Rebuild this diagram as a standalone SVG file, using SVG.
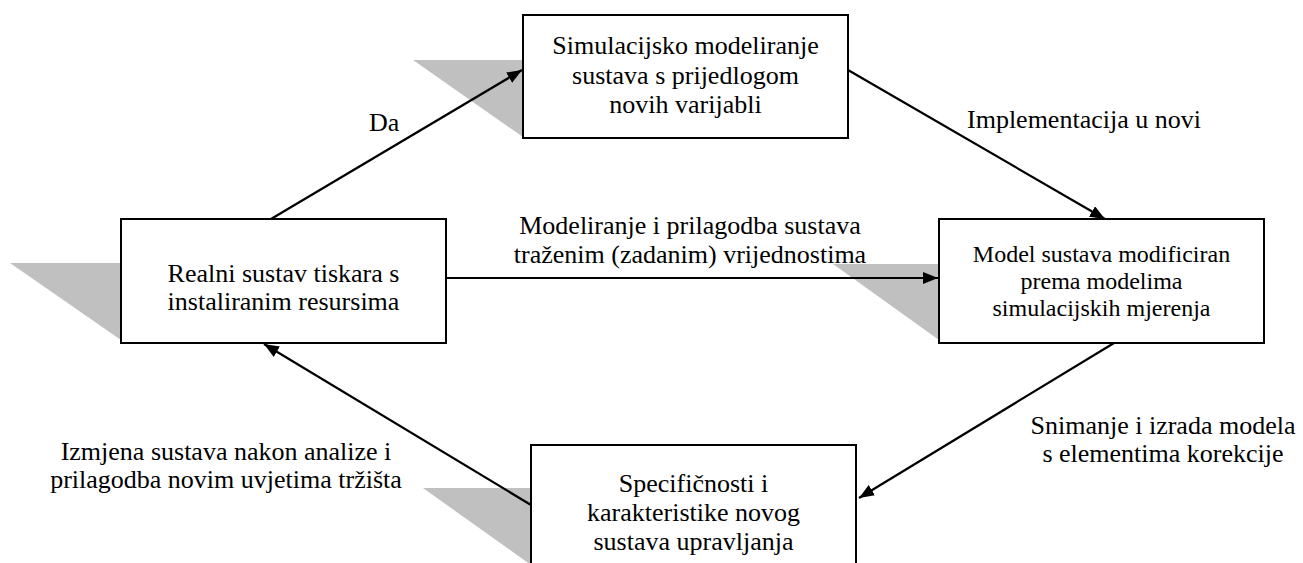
<svg xmlns="http://www.w3.org/2000/svg" width="1303" height="563" viewBox="0 0 1303 563">
<style>
.box{fill:#ffffff;stroke:#000000;stroke-width:2}
.shadow{fill:#c0c0c0;stroke:none}
.t{font-family:"Liberation Serif","Times New Roman",serif;font-size:26px;fill:#000000;text-anchor:middle}
.ts{font-family:"Liberation Serif","Times New Roman",serif;font-size:24px;fill:#000000;text-anchor:middle}
.lbl{font-family:"Liberation Serif","Times New Roman",serif;font-size:26px;fill:#000000}
.edge{stroke:#000000;stroke-width:2.2;fill:none;marker-end:url(#arrow)}
</style>
<defs>
<marker id="arrow" markerUnits="userSpaceOnUse" markerWidth="15" markerHeight="12" refX="15" refY="6" orient="auto">
<path d="M0,0 L15,6 L0,12 z" fill="#000000"/>
</marker>
</defs>
<g id="shadows">
<polygon class="shadow" points="413,60 523,60 523,137"/>
<polygon class="shadow" points="10,263 121,263 121,340"/>
<polygon class="shadow" points="833,264 939,264 939,340"/>
<polygon class="shadow" points="423,488 531,488 531,565"/>
</g>
<g id="connectors">
<line class="edge" x1="271" y1="219" x2="522" y2="70"/>
<line class="edge" x1="848" y1="70" x2="1105" y2="219"/>
<line class="edge" x1="446" y1="278" x2="938" y2="278"/>
<line class="edge" x1="1114" y1="343" x2="859" y2="498"/>
<line class="edge" x1="531" y1="505" x2="264" y2="344"/>
<text class="lbl" x="369" y="131">Da</text>
<text class="lbl" x="967" y="128">Implementacija u novi</text>
<text class="t" x="690" y="234">Modeliranje i prilagodba sustava</text>
<text class="t" x="690" y="263">traženim (zadanim) vrijednostima</text>
<text class="t" x="1163" y="434">Snimanje i izrada modela</text>
<text class="t" x="1163" y="462">s elementima korekcije</text>
<text class="t" x="226" y="460">Izmjena sustava nakon analize i</text>
<text class="t" x="226" y="488">prilagodba novim uvjetima tržišta</text>
</g>
<g id="node-simulacija">
<rect class="box" x="523" y="15" width="325" height="123"/>
<text class="t" x="685.5" y="54">Simulacijsko modeliranje</text>
<text class="t" x="685.5" y="83.5">sustava s prijedlogom</text>
<text class="t" x="685.5" y="113">novih varijabli</text>
</g>
<g id="node-realni">
<rect class="box" x="121" y="219" width="325" height="124"/>
<text class="t" x="283.5" y="282">Realni sustav tiskara s</text>
<text class="t" x="283.5" y="310">instaliranim resursima</text>
</g>
<g id="node-model">
<rect class="box" x="939" y="219" width="325" height="124"/>
<text class="ts" x="1101.5" y="262">Model sustava modificiran</text>
<text class="ts" x="1101.5" y="289">prema modelima</text>
<text class="ts" x="1101.5" y="316">simulacijskih mjerenja</text>
</g>
<g id="node-specificnosti">
<rect class="box" x="531" y="445" width="325" height="140"/>
<text class="t" x="693.5" y="492">Specifičnosti i</text>
<text class="t" x="693.5" y="521">karakteristike novog</text>
<text class="t" x="693.5" y="550">sustava upravljanja</text>
</g>
</svg>
